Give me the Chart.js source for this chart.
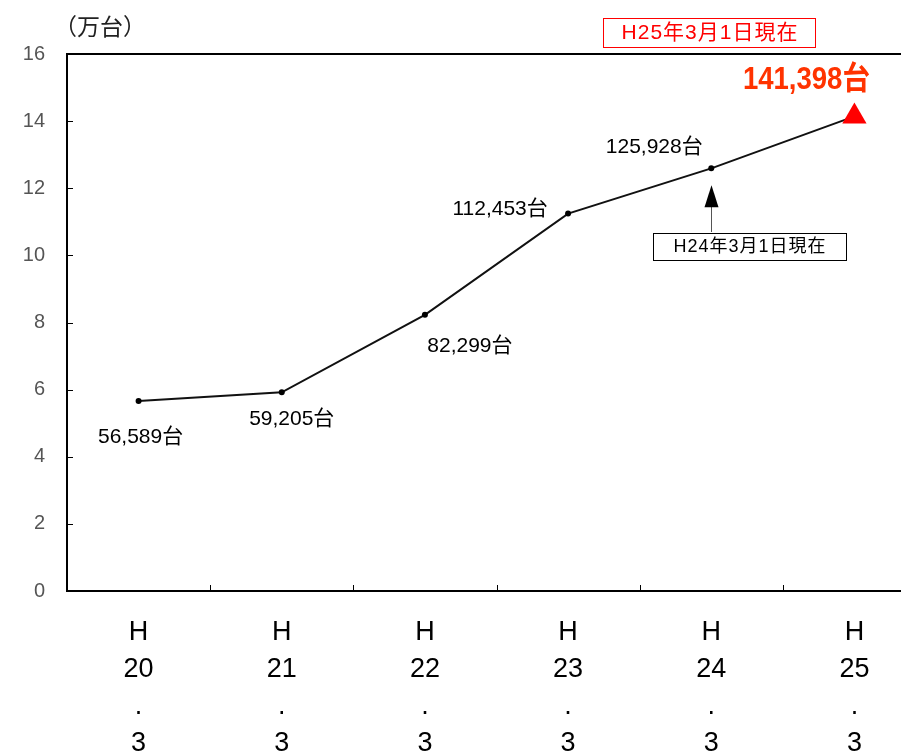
<!DOCTYPE html>
<html>
<head>
<meta charset="utf-8">
<script src="https://cdn.jsdelivr.net/npm/chart.js@4.4.1/dist/chart.umd.min.js"></script>
<style>
html, body { margin: 0; padding: 0; overflow: hidden; background: #fff; }
#wrap { width: 940px; height: 756px; position: relative; }
</style>
</head>
<body>
<div id="wrap"><canvas id="lineChart" width="940" height="756"></canvas></div>
<script>
// categories (H20.3 ... H25.3), one line per array entry
var categories = [
  ['H', '20', '.', '3'],
  ['H', '21', '.', '3'],
  ['H', '22', '.', '3'],
  ['H', '23', '.', '3'],
  ['H', '24', '.', '3'],
  ['H', '25', '.', '3']
];
// registered vehicles (台)
var counts = [56589, 59205, 82299, 112453, 125928, 141398];
// same values in 万台 for the y axis
var values = counts.map(function (v) { return v / 10000; });
var yMin = 0, yMax = 16, yStep = 2;

var unitTitle = '（万台）';
var noteNow = 'H25年3月1日現在';
var notePrev = 'H24年3月1日現在';

// label offsets from each point (px)
var labelOffsets = [[2, 36], [10, 27], [45, 31], [-68, -4], [-57, -21], [-48, -36]];

var sans = '"Liberation Sans", Arial, "Noto Sans CJK JP", sans-serif';

var framePlugin = {
  id: 'frame',
  beforeDatasetsDraw: function (chart) {
    var ctx = chart.ctx, a = chart.chartArea;
    var xs = chart.scales.x, ys = chart.scales.y;
    ctx.save();
    ctx.strokeStyle = '#000';
    ctx.lineWidth = 2;
    ctx.beginPath();
    ctx.moveTo(a.right, a.top);
    ctx.lineTo(a.left, a.top);
    ctx.lineTo(a.left, a.bottom);
    ctx.lineTo(a.right, a.bottom);
    ctx.stroke();
    // inner tick marks
    ctx.lineWidth = 1;
    ctx.beginPath();
    for (var v = yMin + yStep; v < yMax; v += yStep) {
      var py = Math.round(ys.getPixelForValue(v)) + 0.5;
      ctx.moveTo(a.left, py);
      ctx.lineTo(a.left + 6, py);
    }
    for (var i = 1; i < categories.length; i++) {
      var px = Math.round((xs.getPixelForTick(i) + xs.getPixelForTick(i - 1)) / 2) + 0.5;
      ctx.moveTo(px, a.bottom);
      ctx.lineTo(px, a.bottom - 6);
    }
    ctx.stroke();
    ctx.restore();
  }
};

var labelPlugin = {
  id: 'labels',
  afterDatasetsDraw: function (chart) {
    var ctx = chart.ctx;
    var meta = chart.getDatasetMeta(0);
    var last = counts.length - 1;
    ctx.save();
    ctx.textAlign = 'center';
    ctx.textBaseline = 'middle';
    meta.data.forEach(function (pt, i) {
      var txt = counts[i].toLocaleString('en-US') + '台';
      var tx = pt.x + labelOffsets[i][0], ty = pt.y + labelOffsets[i][1];
      if (i === last) {
        // tall condensed headline figure
        ctx.save();
        ctx.fillStyle = '#ff3300';
        ctx.font = 'bold 32px ' + sans;
        ctx.translate(tx, ty);
        ctx.scale(0.86, 1);
        ctx.fillText(txt, 0, 0);
        ctx.restore();
      } else {
        ctx.fillStyle = '#000';
        ctx.font = '21px ' + sans;
        ctx.fillText(txt, tx, ty);
      }
    });

    // unit title
    ctx.textAlign = 'left';
    ctx.fillStyle = '#222';
    ctx.font = '23px "Noto Sans CJK JP", sans-serif';
    ctx.fillText(unitTitle, 54, 26);

    // current-date note (red box)
    ctx.textAlign = 'center';
    ctx.font = '21px ' + sans;
    ctx.letterSpacing = '1px';
    ctx.fillStyle = '#ff0000';
    ctx.fillText(noteNow, 710, 33);
    ctx.strokeStyle = '#ff0000';
    ctx.lineWidth = 1;
    ctx.strokeRect(603.5, 18.5, 212, 29);

    // previous-year note with arrow to H24 point
    var p = meta.data[4];
    var ax = Math.round(p.x) + 0.5;
    ctx.strokeStyle = '#555';
    ctx.beginPath();
    ctx.moveTo(ax, 232);
    ctx.lineTo(ax, 204);
    ctx.stroke();
    ctx.fillStyle = '#000';
    ctx.beginPath();
    ctx.moveTo(ax, p.y + 17);
    ctx.lineTo(ax - 7, p.y + 39);
    ctx.lineTo(ax + 7, p.y + 39);
    ctx.closePath();
    ctx.fill();
    ctx.font = '18px ' + sans;
    ctx.letterSpacing = '1px';
    ctx.fillText(notePrev, 750, 247);
    ctx.strokeStyle = '#000';
    ctx.strokeRect(653.5, 233.5, 193, 27);
    ctx.restore();
  }
};

var ctxL = document.getElementById('lineChart').getContext('2d');
var myLineChart = new Chart(ctxL, {
  type: 'line',
  data: {
    labels: categories,
    datasets: [{
      data: values,
      borderColor: '#111',
      borderWidth: 2,
      tension: 0,
      clip: false,
      pointStyle: ['circle', 'circle', 'circle', 'circle', 'circle', 'triangle'],
      pointRadius: [3, 3, 3, 3, 3, 14],
      pointBackgroundColor: ['#000', '#000', '#000', '#000', '#000', '#ff0000'],
      pointBorderColor: ['#000', '#000', '#000', '#000', '#000', '#ff0000'],
      pointBorderWidth: 0
    }]
  },
  options: {
    responsive: false,
    animation: false,
    devicePixelRatio: 1,
    layout: { padding: { top: 54, left: 0, right: 0, bottom: 0 } },
    plugins: { legend: { display: false }, tooltip: { enabled: false } },
    scales: {
      x: {
        type: 'category',
        offset: true,
        grid: { display: false, drawTicks: false },
        border: { display: false },
        ticks: {
          autoSkip: false,
          maxRotation: 0,
          padding: 23,
          color: '#000',
          font: { family: sans, size: 27, lineHeight: '37px' }
        },
        afterFit: function (s) { s.height = 165; }
      },
      y: {
        min: yMin,
        max: yMax,
        grid: { display: false, drawTicks: false },
        border: { display: false },
        ticks: {
          stepSize: yStep,
          padding: 22,
          color: '#555',
          font: { family: '"Liberation Sans", Arial, sans-serif', size: 20 }
        },
        afterFit: function (s) { s.width = 67; }
      }
    }
  },
  plugins: [framePlugin, labelPlugin]
});
</script>
</body>
</html>
